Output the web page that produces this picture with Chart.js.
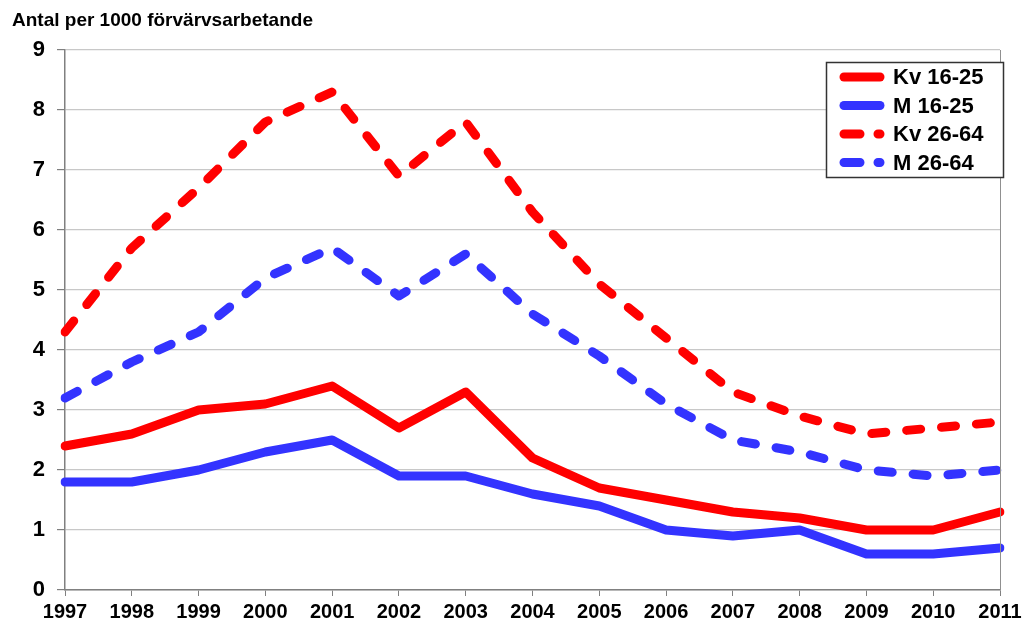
<!DOCTYPE html>
<html>
<head>
<meta charset="utf-8">
<script src="https://cdn.jsdelivr.net/npm/chart.js@4/dist/chart.umd.min.js"></script>
<style>
  body { margin: 0; background: #fff; }
</style>
</head>
<body>
<canvas id="myChart" width="1031" height="630"></canvas>
<script>
const years = ["1997","1998","1999","2000","2001","2002","2003","2004","2005","2006","2007","2008","2009","2010","2011"];
const kv1625 = [2.4, 2.6, 3.0, 3.1, 3.4, 2.7, 3.3, 2.2, 1.7, 1.5, 1.3, 1.2, 1.0, 1.0, 1.3];
const m1625  = [1.8, 1.8, 2.0, 2.3, 2.5, 1.9, 1.9, 1.6, 1.4, 1.0, 0.9, 1.0, 0.6, 0.6, 0.7];
const kv2664 = [4.3, 5.7, 6.7, 7.8, 8.3, 6.9, 7.8, 6.3, 5.1, 4.2, 3.3, 2.9, 2.6, 2.7, 2.8];
const m2664  = [3.2, 3.8, 4.3, 5.2, 5.7, 4.9, 5.6, 4.6, 3.9, 3.1, 2.5, 2.3, 2.0, 1.9, 2.0];
const yTicks = [0, 1, 2, 3, 4, 5, 6, 7, 8, 9];
const yTitle = "Antal per 1000 förvärvsarbetande";

const red = "#ff0000";
const blue = "#3333ff";
const dash = [14, 21];

// draws the title, the right border and the legend box inside the plot
const extras = {
  id: "extras",
  afterDraw(chart) {
    const ctx = chart.ctx;
    const a = chart.chartArea;
    ctx.save();
    ctx.fillStyle = "#000";
    ctx.font = "bold 19px Arial, 'Liberation Sans', sans-serif";
    ctx.textBaseline = "alphabetic";
    ctx.fillText(yTitle, 12, 26);

    ctx.strokeStyle = "#909090";
    ctx.lineWidth = 1;
    ctx.beginPath();
    ctx.moveTo(a.right + 0.5, a.top);
    ctx.lineTo(a.right + 0.5, a.bottom);
    ctx.stroke();

    // legend (dash + dot sample for the dashed series)
    const bx = 826, by = 62, bw = 177, bh = 115;
    ctx.fillStyle = "#fff";
    ctx.fillRect(bx, by, bw, bh);
    ctx.strokeStyle = "#333";
    ctx.lineWidth = 1.5;
    ctx.strokeRect(bx + 0.5, by + 0.5, bw, bh);
    chart.data.datasets.forEach(function (ds, i) {
      const y = 77 + i * 28.5;
      ctx.strokeStyle = ds.borderColor;
      ctx.lineWidth = ds.borderWidth;
      ctx.lineCap = "round";
      ctx.setLineDash(ds.borderDash.length ? [16, 18] : []);
      ctx.beginPath();
      ctx.moveTo(844, y);
      ctx.lineTo(880, y);
      ctx.stroke();
      ctx.setLineDash([]);
      ctx.fillStyle = "#000";
      ctx.font = "bold 22px Arial, 'Liberation Sans', sans-serif";
      ctx.textBaseline = "middle";
      ctx.fillText(ds.label, 893, y + 1);
    });
    ctx.restore();
  }
};

function makeSet(label, data, color, dashed) {
  return {
    label: label,
    data: data,
    borderColor: color,
    backgroundColor: color,
    borderWidth: 9,
    borderDash: dashed ? dash : [],
    borderCapStyle: "round",
    borderJoinStyle: "round",
    pointRadius: 0,
    tension: 0,
    fill: false
  };
}

const ctx = document.getElementById("myChart").getContext("2d");
const myChart = new Chart(ctx, {
  type: "line",
  data: {
    labels: years,
    datasets: [
      makeSet("Kv 16-25", kv1625, red, false),
      makeSet("M 16-25", m1625, blue, false),
      makeSet("Kv 26-64", kv2664, red, true),
      makeSet("M 26-64", m2664, blue, true)
    ]
  },
  options: {
    responsive: false,
    animation: false,
    layout: { padding: { left: 0, right: 31, top: 50, bottom: 0 } },
    plugins: {
      legend: { display: false },
      tooltip: { enabled: false }
    },
    scales: {
      x: {
        offset: false,
        grid: { drawOnChartArea: false, drawTicks: true, tickLength: 6, tickColor: "#808080" },
        border: { color: "#808080", width: 1.5 },
        ticks: {
          color: "#000",
          font: { family: "Arial, 'Liberation Sans', sans-serif", size: 20, weight: "bold" },
          padding: 4,
          maxRotation: 0,
          autoSkip: false
        },
        afterFit(scale) { scale.height = 40; }
      },
      y: {
        min: 0,
        max: 9,
        afterBuildTicks(scale) { scale.ticks = yTicks.map(v => ({ value: v })); },
        grid: { color: "#c8c8c8", tickColor: "#808080", tickLength: 8, lineWidth: 1.2 },
        border: { color: "#808080", width: 1.5 },
        ticks: {
          color: "#000",
          font: { family: "Arial, 'Liberation Sans', sans-serif", size: 22, weight: "bold" },
          padding: 12
        },
        afterFit(scale) { scale.width = 65; }
      }
    }
  },
  plugins: [extras]
});
</script>
</body>
</html>
